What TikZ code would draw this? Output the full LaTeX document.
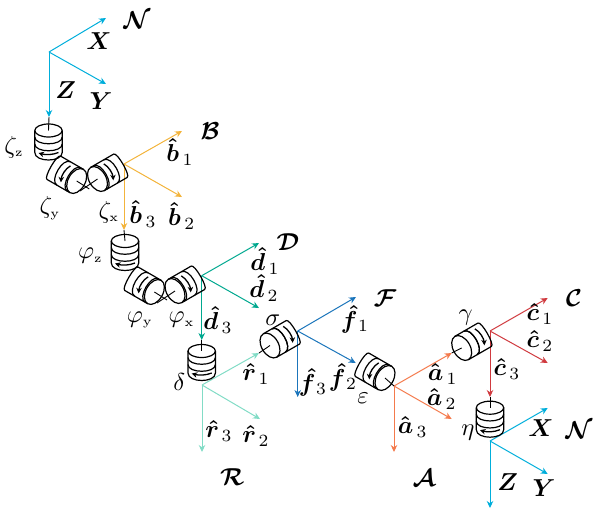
\documentclass[tikz,border=0pt]{standalone}
\usepackage{amsmath,bm}
\usetikzlibrary{arrows.meta}
\definecolor{cN}{RGB}{0,174,219}
\definecolor{cB}{RGB}{243,180,60}
\definecolor{cD}{RGB}{0,168,143}
\definecolor{cR}{RGB}{130,220,198}
\definecolor{cF}{RGB}{27,117,187}
\definecolor{cA}{RGB}{244,122,76}
\definecolor{cC}{RGB}{208,58,63}
\tikzset{
 axisline/.style={line width=1pt,-{Stealth[length=7pt,width=6.5pt]}},
 jointline/.style={line width=1.2pt,black,line join=round},
 stubline/.style={line width=0.9pt,black},
 bandarrow/.style={line width=1.3pt,black,-{Stealth[length=5.5pt,width=5.5pt]}},
 lab/.style={inner sep=0pt,scale=2.45},
 gk/.style={inner sep=0pt,scale=2.45},
}
\newcommand{\gsub}[2]{#1_{\scriptscriptstyle\mathrm{#2}}}
\newcommand{\hsub}[2]{\bm{\hat #1}_{\,#2}}
\newcommand{\vjoint}[2]{% centre of top face
 \begin{scope}[shift={(#1,#2)}]
  \fill[white] (-13.7,0) -- (-13.7,22) .. controls (-13.7,31) and (13.7,31) .. (13.7,22) -- (13.7,0) -- cycle;
  \draw[jointline,fill=white] (0,0) ellipse [x radius=13.7pt,y radius=6.5pt];
  \draw[jointline] (-13.7,0) -- (-13.7,22) .. controls (-13.7,32) and (13.7,32) .. (13.7,22) -- (13.7,0);
  \draw[jointline] (-13.7,6.5) .. controls (-13.7,15.5) and (13.7,15.5) .. (13.7,6.5);
  \draw[jointline] (-13.7,13.5) .. controls (-13.7,22.5) and (13.7,22.5) .. (13.7,13.5);
  \draw[bandarrow] (10,22) .. controls (4,24.5) and (-3,24.5) .. (-10,22.5);
 \end{scope}}
% #1,#2 face centre, #3 xscale (1 = axis down-right, -1 = axis down-left), #4,#5 ring positions, #6 arrow position
\newcommand{\cyljoint}[6]{%
 \begin{scope}[shift={(#1,#2)},xscale=#3,rotate=-30]
  \draw[jointline] (0,0) ellipse [x radius=8.5pt,y radius=13.5pt];
  \draw[jointline] (0,-13.5) -- (-26.5,-13.5) .. controls (-30.5,-13.5) and (-30.5,13.5) .. (-26.5,13.5) -- (0,13.5);
  \draw[jointline] (-#4,-13.5) .. controls (-#4-9,-13.5) and (-#4-9,13.5) .. (-#4,13.5);
  \draw[jointline] (-#5,-13.5) .. controls (-#5-9,-13.5) and (-#5-9,13.5) .. (-#5,13.5);
  \draw[bandarrow] (-#6,-10) .. controls (-#6-3,-5) and (-#6-3,3) .. (-#6,9);
 \end{scope}}
\newcommand{\frameaxes}[9]{% name colour ox oy t1x t1y t2x t2y t3y
 \coordinate (#1o) at (#3,#4);
 \coordinate (#1a) at (#5,#6);
 \coordinate (#1b) at (#7,#8);
 \coordinate (#1c) at (#3,#9);
 \draw[axisline,#2] (#1o) -- (#1a);
 \draw[axisline,#2] (#1o) -- (#1b);
 \draw[axisline,#2] (#1o) -- (#1c);}
\begin{document}
\begin{tikzpicture}[x=1pt,y=-1pt]
\useasboundingbox (0,0) rectangle (594,512);
% frames
\frameaxes{N}{cN}{49}{52}{106}{18}{106}{84}{117}
\frameaxes{B}{cB}{124}{164}{182}{131}{182}{197}{230}
\frameaxes{D}{cD}{201.7}{275.7}{259}{243}{259}{308}{340}
\frameaxes{R}{cR}{202}{385}{259}{353}{260}{419}{452}
\frameaxes{F}{cF}{297.7}{331}{356}{297}{355.7}{363}{397}
\frameaxes{A}{cA}{394}{386}{451.7}{353}{451.7}{419}{452}
\frameaxes{C}{cC}{490}{331}{547.7}{298}{547.7}{363}{397}
\frameaxes{M}{cN}{490}{441}{547.7}{408}{547.7}{474}{508}
% joints
\vjoint{48.5}{130.5}
\vjoint{125}{241}
\vjoint{201.7}{351}
\vjoint{490}{407.7}
\cyljoint{76.7}{181}{1}{3}{15}{13}
\cyljoint{97.5}{179}{-1}{3}{15}{13}
\cyljoint{154.4}{292}{1}{3}{15}{13}
\cyljoint{175}{291}{-1}{3}{15}{13}
\cyljoint{270}{345.5}{-1}{10}{10}{21}
\cyljoint{385}{378}{1}{3}{15}{13}
\cyljoint{461.7}{348}{-1}{10}{10}{21}
% stubs
\coordinate (zzc) at (48.5,130.5);
\coordinate (pzc) at (125,241);
\coordinate (dzc) at (201.7,351);
\coordinate (ezc) at (490,407.7);
\draw[stubline] (Nc) -- (zzc);
\draw[stubline] (Bc) -- (pzc);
\draw[stubline] (Dc) -- (dzc);
\draw[stubline] (Cc) -- (ezc);
\coordinate (zyf) at (76.7,181);
\coordinate (zys) at (89.3,189);
\coordinate (zxf) at (97.5,179);
\coordinate (zxs) at (80,191);
\draw[stubline] (zyf) -- (zys);
\draw[stubline] (zxf) -- (zxs);
\coordinate (pyf) at (154.4,292);
\coordinate (pys) at (167,300);
\coordinate (pxf) at (175,291);
\coordinate (pxs) at (157,303);
\draw[stubline] (pyf) -- (pys);
\draw[stubline] (pxf) -- (pxs);
\coordinate (sf) at (270,345.5);
\draw[stubline] (sf) -- (Ra);
\coordinate (ef) at (385,378);
\draw[stubline] (ef) -- (Ao);
\coordinate (gf) at (461.7,348);
\draw[stubline] (gf) -- (Aa);
% labels
\node[lab] (lN1) at (137,20) {$\bm{\mathcal{N}}$};
\node[lab] (lX1) at (99,40.7) {$\bm{X}$};
\node[lab] (lY1) at (101,100.7) {$\bm{Y}$};
\node[lab] (lZ1) at (65.7,90) {$\bm{Z}$};
\node[gk] (lzz) at (14,147) {$\gsub{\zeta}{z}$};
\node[gk] (lzy) at (50,208) {$\gsub{\zeta}{y}$};
\node[gk] (lzx) at (109,212) {$\gsub{\zeta}{x}$};
\node[lab] (lB) at (210,131) {$\bm{\mathcal{B}}$};
\node[lab] (lb1) at (180,152) {$\hsub{b}{1}$};
\node[lab] (lb2) at (181.7,216) {$\hsub{b}{2}$};
\node[lab] (lb3) at (143,214) {$\hsub{b}{3}$};
\node[gk] (lpz) at (90.5,256) {$\gsub{\varphi}{z}$};
\node[gk] (lpy) at (140,320) {$\gsub{\varphi}{y}$};
\node[gk] (lpx) at (181.7,320) {$\gsub{\varphi}{x}$};
\node[lab] (lD) at (288,242) {$\bm{\mathcal{D}}$};
\node[lab] (ld1) at (265,261) {$\hsub{d}{1}$};
\node[lab] (ld2) at (264,288) {$\hsub{d}{2}$};
\node[lab] (ld3) at (218,320) {$\hsub{d}{3}$};
\node[gk] (ldl) at (179.3,381.7) {$\delta$};
\node[lab] (lr1) at (256,374) {$\hsub{r}{1}$};
\node[lab] (lr2) at (256,436) {$\hsub{r}{2}$};
\node[lab] (lr3) at (219,431) {$\hsub{r}{3}$};
\node[lab] (lR) at (232.3,476.7) {$\bm{\mathcal{R}}$};
\node[gk] (ls) at (272.7,320) {$\sigma$};
\node[lab] (lf1) at (355,319) {$\hsub{f}{1}$};
\node[lab] (lf2) at (343,377) {$\hsub{f}{2}$};
\node[lab] (lf3) at (313,382) {$\hsub{f}{3}$};
\node[lab] (lF) at (385,298) {$\bm{\mathcal{F}}$};
\node[gk] (le) at (363,398) {$\varepsilon$};
\node[gk] (lg) at (465.7,318) {$\gamma$};
\node[lab] (lC) at (574,298) {$\bm{\mathcal{C}}$};
\node[lab] (lc1) at (540,314) {$\hsub{c}{1}$};
\node[lab] (lc2) at (540,340.7) {$\hsub{c}{2}$};
\node[lab] (lc3) at (507,369) {$\hsub{c}{3}$};
\node[lab] (la1) at (442.7,374) {$\hsub{a}{1}$};
\node[lab] (la2) at (441.7,399) {$\hsub{a}{2}$};
\node[lab] (la3) at (412.7,427) {$\hsub{a}{3}$};
\node[lab] (lA) at (424,478) {$\bm{\mathcal{A}}$};
\node[gk] (let) at (468,432.7) {$\eta$};
\node[lab] (lX2) at (541,428) {$\bm{X}$};
\node[lab] (lN2) at (579,430) {$\bm{\mathcal{N}}$};
\node[lab] (lY2) at (544,488) {$\bm{Y}$};
\node[lab] (lZ2) at (507.7,481.7) {$\bm{Z}$};
\end{tikzpicture}
\end{document}
